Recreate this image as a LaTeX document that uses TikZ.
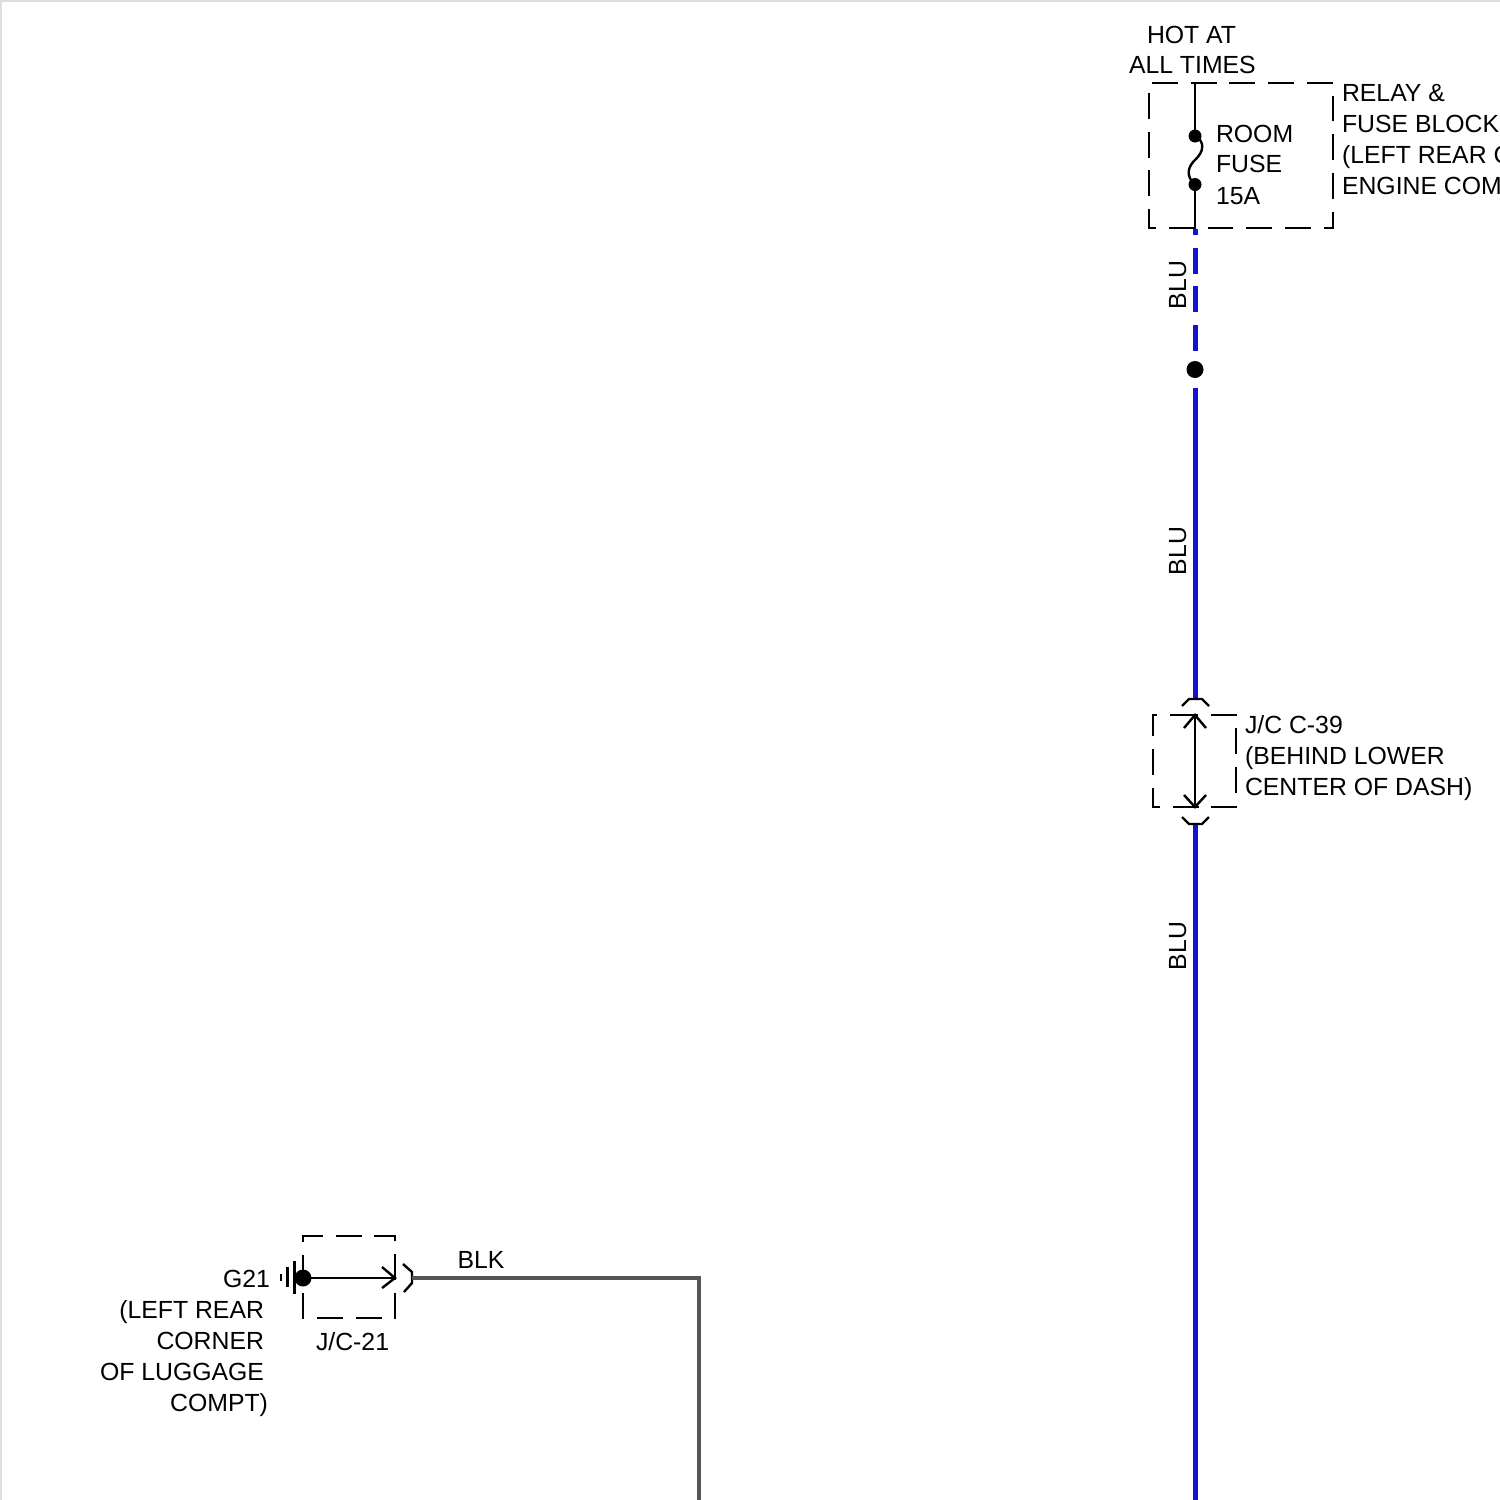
\documentclass[tikz,border=0pt]{standalone}
\usepackage{fontspec}
\setmainfont{Liberation Sans}
\definecolor{wireblue}{RGB}{18,18,214}
\definecolor{wiregray}{RGB}{85,85,85}
\definecolor{edgegray}{RGB}{222,222,222}
\tikzset{
  lbl/.style={inner sep=0pt,outer sep=0pt,anchor=base west,font=\fontsize{12.4}{15}\selectfont,text=black},
  lblr/.style={lbl,anchor=base east},
  lblv/.style={lbl,anchor=base,rotate=90},
  boxdash/.style={draw=black,line width=1.2pt,dash pattern=on 12.9pt off 6.45pt,line cap=butt,line join=miter},
  thinwire/.style={draw=black,line width=1.2pt},
  bluewire/.style={draw=wireblue,line width=2.5pt},
  blackwire/.style={draw=wiregray,line width=2.4pt,line join=miter},
  dotnode/.style={circle,fill=black,inner sep=0pt,outer sep=0pt},
}
\begin{document}
\begin{tikzpicture}[x=0.5pt,y=-0.5pt]
\useasboundingbox (0,0) rectangle (1500,1500);
\fill[white] (0,0) rectangle (1500,1500);
\draw[edgegray,line width=1pt] (0.5,1500) -- (0.5,0.5) -- (1500,0.5);

% coordinates
\coordinate (fusein) at (1195,83);
\coordinate (fuseout) at (1195,229);
\coordinate (bluedashend) at (1195,351);
\coordinate (bluestart) at (1195,388);
\coordinate (capAtop) at (1195,699);
\coordinate (capAbot) at (1195,824);
\coordinate (jtop) at (1195,715);
\coordinate (jbot) at (1195,807);
\coordinate (blueend) at (1195,1500);
\coordinate (g21tip) at (395,1278);
\coordinate (blkstart) at (412,1278);
\coordinate (blkcorner) at (699,1278);
\coordinate (blkend) at (699,1500);

\node[dotnode,minimum size=6.5pt] (fuseA) at (1195,136) {};
\node[dotnode,minimum size=6.5pt] (fuseB) at (1195,184.5) {};
\node[dotnode,minimum size=8.5pt] (splice) at (1195,369.5) {};
\node[dotnode,minimum size=8.5pt] (g21dot) at (303,1278) {};

% dashed boxes
\draw[boxdash] (1152,83) -- (1333,83) -- (1333,228) -- (1149,228) -- (1149,83) -- (1152,83);
\draw[boxdash] (1172,715) -- (1236,715) -- (1236,807) -- (1153,807) -- (1153,715) -- (1172,715);
\draw[boxdash] (303,1242) -- (303,1236) -- (395,1236) -- (395,1318) -- (303,1318) -- (303,1242);

% fuse
\draw[thinwire] (fusein) -- (fuseA.center);
\draw[thinwire] (fuseA.center) .. controls (1206,142) and (1203,152) .. (1196,159) .. controls (1188,166) and (1185,176) .. (fuseB.center);
\draw[thinwire] (fuseB.center) -- (fuseout);

% blue wire
\draw[bluewire,dash pattern=on 12.9pt off 6.45pt,dash phase=10pt] (fuseout) -- (bluedashend);
\draw[bluewire] (bluestart) -- (capAtop);
\draw[bluewire] (capAbot) -- (blueend);

% J/C C-39
\draw[thinwire] (jtop) -- (jbot);
\draw[thinwire] (1184,728) -- (jtop) -- (1206,728);
\draw[thinwire] (1184,795) -- (jbot) -- (1206,795);
\draw[thinwire] (1182,706) -- (1189,699) -- (capAtop) -- (1202,699) -- (1209,706);
\draw[thinwire] (1182,817) -- (1189,824) -- (capAbot) -- (1202,824) -- (1209,817);

% G21
\draw[thinwire] (g21dot.center) -- (g21tip);
\draw[thinwire] (382,1267) -- (g21tip) -- (382,1288);
\draw[thinwire] (294.5,1261) -- (294.5,1294);
\draw[thinwire] (287.5,1267) -- (287.5,1287);
\draw[thinwire] (281,1274) -- (281,1281);
\draw[thinwire] (403,1264) -- (412,1272) -- (412,1283) -- (404,1292);
\draw[blackwire] (blkstart) -- (blkcorner) -- (blkend);

% labels
\node[lbl] (hot1) at (1147,43) {HOT AT};
\node[lbl] (hot2) at (1129,73) {ALL TIMES};
\node[lbl] (relay1) at (1342,101) {RELAY \&};
\node[lbl] (relay2) at (1342,132) {FUSE BLOCK};
\node[lbl] (relay3) at (1342,163) {(LEFT REAR C};
\node[lbl] (relay4) at (1342,194) {ENGINE COM};
\node[lbl] (room) at (1216,142) {ROOM};
\node[lbl] (fuse) at (1216,172) {FUSE};
\node[lbl] (amp) at (1216,204) {15A};
\node[lblv] (blu1) at (1186,285) {BLU};
\node[lblv] (blu2) at (1186,551) {BLU};
\node[lblv] (blu3) at (1186,946) {BLU};
\node[lbl] (jc1) at (1245,733) {J/C C-39};
\node[lbl] (jc2) at (1245,764) {(BEHIND LOWER};
\node[lbl] (jc3) at (1245,795) {CENTER OF DASH)};
\node[lblr] (g1) at (270,1287) {G21};
\node[lblr] (g2) at (264,1318) {(LEFT REAR};
\node[lblr] (g3) at (264,1349) {CORNER};
\node[lblr] (g4) at (264,1380) {OF LUGGAGE};
\node[lblr] (g5) at (268,1411) {COMPT)};
\node[lbl] (jc21) at (316,1350) {J/C-21};
\node[lbl] (blk) at (457.5,1268) {BLK};
\end{tikzpicture}
\end{document}
